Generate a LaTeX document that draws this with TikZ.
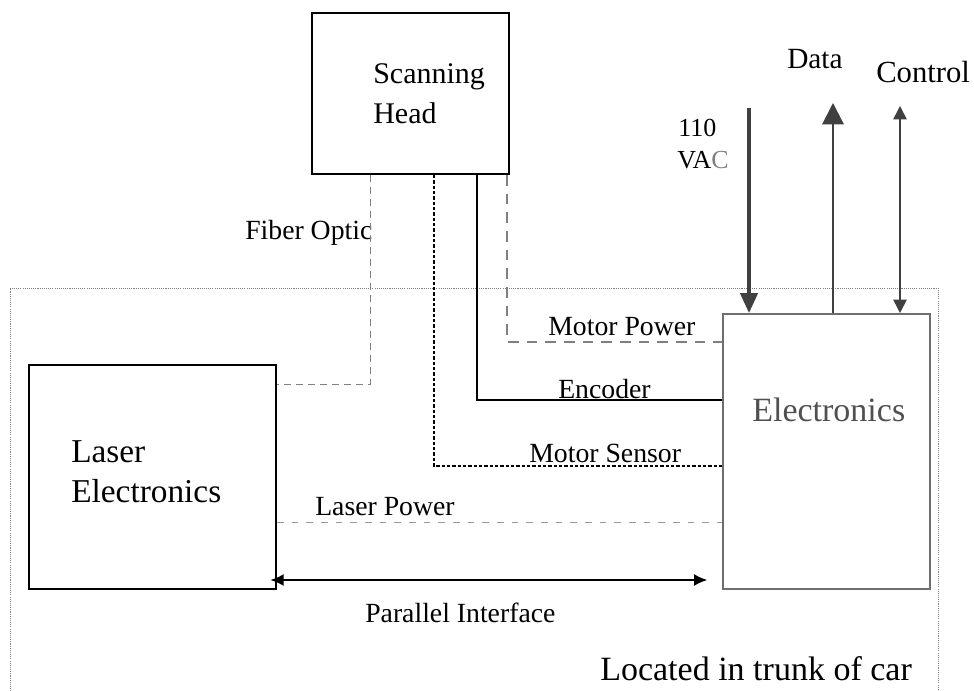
\documentclass[tikz,border=0pt]{standalone}
\usepackage{fontspec}
\setmainfont{Liberation Serif}
\usetikzlibrary{arrows.meta}
\definecolor{arrowgray}{HTML}{404040}
\definecolor{boxgray}{HTML}{6E6E6E}
\definecolor{textgray}{HTML}{505050}
\definecolor{dashgray}{HTML}{808080}
\newcommand{\fsz}[1]{\fontsize{#1pt}{#1pt}\selectfont}
\tikzset{
  blockbox/.style={draw=black, line width=1.5pt, anchor=north west, inner sep=0pt},
  greybox/.style={draw=boxgray, line width=1.5pt, anchor=north west, inner sep=0pt},
  lbl/.style={anchor=base west, inner sep=0pt, font=\fsz{20.8}},
  fiberline/.style={draw=dashgray, line width=0.7pt, dash pattern=on 5pt off 4pt},
  sensorline/.style={draw=black, line width=1pt, dash pattern=on 2.5pt off 1.5pt},
  encoderline/.style={draw=black, line width=1.3pt},
  mpowerline/.style={draw=dashgray, line width=0.8pt, dash pattern=on 8pt off 6pt},
  lpowerline/.style={draw=dashgray!80, line width=0.7pt, dash pattern=on 5pt off 6pt},
  trunkline/.style={draw=gray, line width=0.6pt, dash pattern=on 0.8pt off 0.8pt},
}
\begin{document}
\begin{tikzpicture}[x=0.75pt, y=-0.75pt]
\useasboundingbox (0,0) rectangle (974,690);

% trunk boundary
\coordinate (tl) at (10,288);
\coordinate (tr) at (938,288);
\draw[trunkline] (10,700) -- (tl) -- (tr) -- (938,700);

% boxes
\node[blockbox, minimum width=147.75pt, minimum height=120.75pt] (sh) at (311,12) {};
\node[blockbox, minimum width=185.25pt, minimum height=168pt] (laser) at (28,364) {};
\node[greybox, minimum width=155.25pt, minimum height=206.25pt] (elec) at (722,313) {};

% box texts
\node[lbl, font=\fsz{22.5}] (t-scan) at (373,83) {Scanning};
\node[lbl, font=\fsz{22.5}] (t-head) at (373,123) {Head};
\node[lbl, font=\fsz{25}] (t-laser) at (71,462) {Laser};
\node[lbl, font=\fsz{25}] (t-lelec) at (71,502) {Electronics};
\node[lbl, font=\fsz{25.5}, text=textgray] (t-elec) at (752,421) {Electronics};

% connector labels
\node[lbl] (t-fiber) at (245,239) {Fiber Optic};
\node[lbl] (t-mpow) at (548,335) {Motor Power};
\node[lbl] (t-enc) at (558,398) {Encoder};
\node[lbl] (t-msen) at (529,462) {Motor Sensor};
\node[lbl] (t-lpow) at (315,515) {Laser Power};
\node[lbl] (t-par) at (365,622) {Parallel Interface};
\node[lbl, font=\fsz{25.5}] (t-trunk) at (600,680) {Located in trunk of car};
\node[lbl, font=\fsz{22}] (t-data) at (787,68) {Data};
\node[lbl, font=\fsz{23}] (t-ctrl) at (876,82) {Control};
\node[lbl, font=\fsz{19.5}] (t-110) at (678,136) {110};
\node[lbl, font=\fsz{19.5}] (t-vac) at (677,168) {VA\textcolor{gray}{C}};

% connector bends
\coordinate (fo) at (370,384);
\coordinate (ms) at (434,466);
\coordinate (en) at (477,400);
\coordinate (mp) at (507,342);
\coordinate (lp) at (0,522);
\coordinate (pi) at (0,580);

\draw[fiberline] (fo |- sh.south) -- (fo) -- (fo -| laser.east);
\draw[sensorline] (ms |- sh.south) -- (ms) -- (ms -| elec.west);
\draw[encoderline] (en |- sh.south) -- (en) -- (en -| elec.west);
\draw[mpowerline] (mp |- sh.south) -- (mp) -- (mp -| elec.west);
\draw[lpowerline] (lp -| laser.east) -- (lp -| elec.west);
\draw[line width=1.3pt, {Latex[width=9pt,length=10pt]}-{Latex[width=9pt,length=10pt]},
      shorten <=-5pt, shorten >=11pt] (pi -| laser.east) -- (pi -| elec.west);

% external arrows
\coordinate (vac) at (749,108);
\coordinate (dt) at (833,103);
\coordinate (ct) at (900,106);
\draw[arrowgray, line width=2.6pt, -{Triangle[width=13pt,length=15pt]}] (vac) -- (vac |- elec.north);
\draw[arrowgray, line width=1.6pt, -{Triangle[width=16pt,length=16pt]}] (dt |- elec.north) -- (dt);
\draw[arrowgray, line width=1.2pt, {Triangle[width=10pt,length=10pt]}-{Triangle[width=10pt,length=10pt]}] (ct) -- (ct |- elec.north);
\end{tikzpicture}
\end{document}
